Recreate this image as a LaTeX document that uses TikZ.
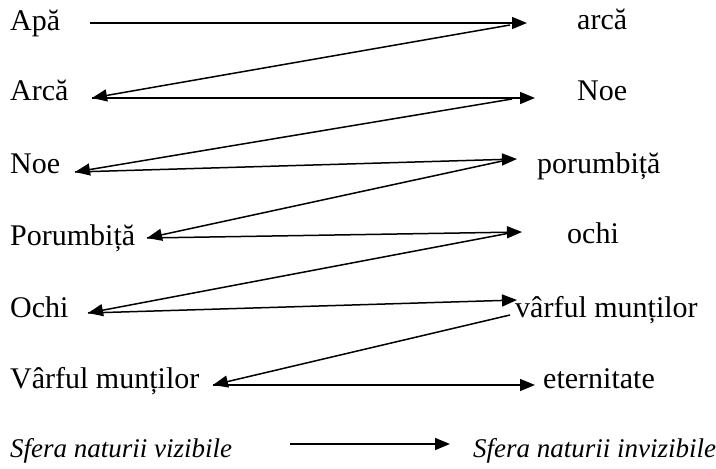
\documentclass[tikz,border=0pt]{standalone}
\usepackage{fontspec}
\setmainfont{Liberation Serif}
\usetikzlibrary{arrows.meta}
\begin{document}
\begin{tikzpicture}[x=1pt,y=-1pt,
  lbl/.style={anchor=base west,inner sep=0pt,font=\fontsize{30}{35}\selectfont},
  ilbl/.style={anchor=base west,inner sep=0pt,font=\fontsize{27}{32}\selectfont\itshape},
  arr/.style={line width=1.5pt,-{Triangle[length=15pt,width=12pt]}}]
\useasboundingbox (0,0) rectangle (716,469);
% left labels
\node[lbl] (l1) at (10,30) {Apă};
\node[lbl] (l2) at (10,100) {Arcă};
\node[lbl] (l3) at (10,173) {Noe};
\node[lbl] (l4) at (10,245) {Porumbiță};
\node[lbl] (l5) at (10,317) {Ochi};
\node[lbl] (l6) at (10,388) {Vârful munților};
\node[ilbl] (lv) at (10,457) {Sfera naturii vizibile};
% right labels
\node[lbl] (r1) at (577,29) {arcă};
\node[lbl] (r2) at (577,100) {Noe};
\node[lbl] (r3) at (537,173) {porumbiță};
\node[lbl] (r4) at (567,243) {ochi};
\node[lbl] (r5) at (515,317) {vârful munților};
\node[lbl] (r6) at (543,388) {eternitate};
\node[ilbl] (ri) at (473,457) {Sfera naturii invizibile};
% endpoints
\coordinate (a1) at (90,23);
\coordinate (a2) at (92,98);
\coordinate (a3) at (75,172);
\coordinate (a4) at (147,238);
\coordinate (a5) at (88,313);
\coordinate (a6) at (213,385);
\coordinate (b1) at (527,23);
\coordinate (b2) at (535,98);
\coordinate (b3) at (517,159);
\coordinate (b4) at (522,232);
\coordinate (b5) at (517,300);
\coordinate (b6) at (535,385);
\coordinate (s1) at (510,25);
\coordinate (s2) at (512,99);
\coordinate (s3) at (507,160);
\coordinate (s4) at (510,233);
\coordinate (s5) at (510,315);
\coordinate (lg1) at (290,444);
\coordinate (lg2) at (450,444);
% arrows
\draw[arr] (a1) -- (b1);
\draw[arr] (s1) -- (a2);
\draw[arr] (a2) -- (b2);
\draw[arr] (s2) -- (a3);
\draw[arr] (a3) -- (b3);
\draw[arr] (s3) -- (a4);
\draw[arr] (a4) -- (b4);
\draw[arr] (s4) -- (a5);
\draw[arr] (a5) -- (b5);
\draw[arr] (s5) -- (a6);
\draw[arr] (a6) -- (b6);
\draw[arr] (lg1) -- (lg2);
\end{tikzpicture}
\end{document}
